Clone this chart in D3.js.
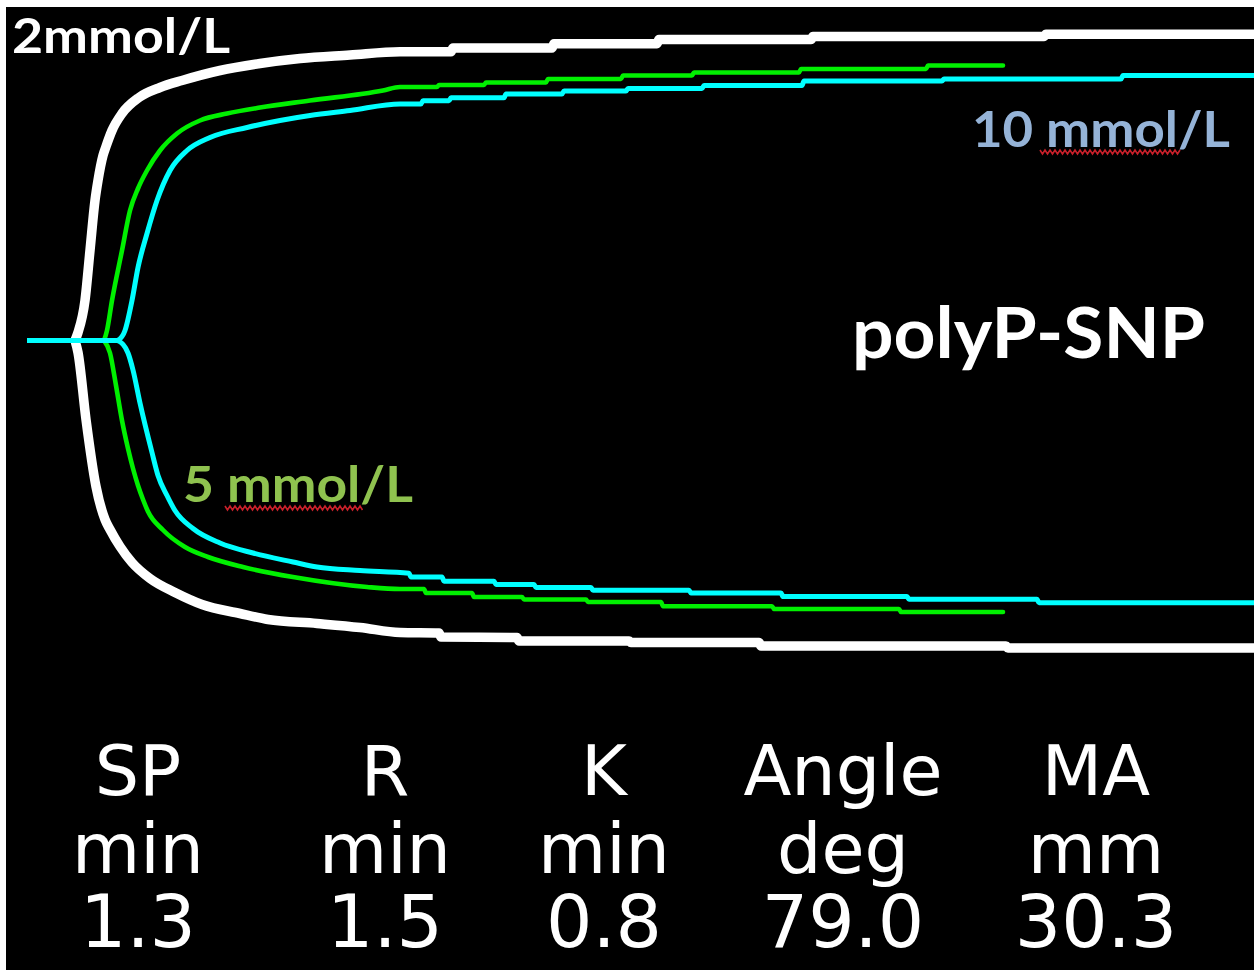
<!DOCTYPE html>
<html><head><meta charset="utf-8">
<script src="https://cdn.jsdelivr.net/npm/d3@7"></script>
<style>html,body{margin:0;padding:0;background:#fff;overflow:hidden}svg{display:block}</style>
</head><body><svg id="c" width="1254" height="970"></svg>
<script>
// time in minutes, amplitude (full width) in mm
const whiteUpper = [[2.40,0],[2.55,0.8],[2.90,4.0],[3.15,9.0],[3.40,14.0],[3.55,16.0],[3.80,18.5],[3.95,19.4],[4.25,21.0],[4.75,22.7],[5.60,24.3],[6.65,25.3],[7.75,26.0],[9.65,27.0],[11.65,27.7],[13.65,28.2],[16.15,28.55],[18.65,28.88],[21.2,28.88],[21.3,29.25],[26.25,29.25],[26.35,29.68],[31.5,29.68],[31.6,30.1],[39.2,30.1],[39.3,30.4],[50.85,30.4],[50.95,30.62],[62,30.62]];
const whiteLower = [[2.40,0],[2.55,1.2],[2.95,7.9],[3.45,14.6],[3.90,17.9],[4.15,18.9],[4.65,20.6],[5.25,22.2],[6.15,23.8],[7.40,25.2],[8.75,26.4],[10.65,27.3],[12.05,27.9],[14.5,28.3],[16.65,28.7],[18.65,29.2],[20.6,29.25],[20.7,29.65],[24.5,29.7],[24.6,30.05],[30.1,30.05],[30.2,30.2],[36.6,30.2],[36.7,30.55],[48.95,30.55],[49.05,30.75],[62,30.75]];
const greenUpper = [[3.85,0],[4.0,1.0],[4.25,4.0],[4.75,9.0],[5.15,13.0],[5.55,15.2],[6.0,17.0],[6.65,19.0],[7.5,20.7],[8.65,22.0],[10.0,22.7],[11.65,23.3],[14.15,24.0],[17.8,25.0],[18.65,25.35],[20.5,25.35],[20.6,25.55],[22.85,25.55],[22.95,25.8],[25.95,25.8],[26.05,26.15],[29.7,26.15],[29.8,26.5],[33.25,26.5],[33.35,26.8],[38.6,26.8],[38.7,27.15],[44.95,27.15],[45.05,27.5],[48.8,27.5]];
const greenLower = [[3.85,0],[4.15,1.25],[4.45,4.5],[4.75,8.0],[5.05,10.8],[5.3,12.8],[5.55,14.5],[5.8,15.9],[6.05,17.1],[6.8,18.95],[7.9,20.65],[9.05,21.65],[10.8,22.65],[13.3,23.65],[17.0,24.65],[18.65,24.85],[19.85,24.85],[19.95,25.25],[22.25,25.25],[22.35,25.65],[24.75,25.65],[24.85,25.9],[27.95,25.9],[28.05,26.15],[31.7,26.15],[31.8,26.57],[37.25,26.57],[37.35,26.85],[43.6,26.85],[43.7,27.15],[48.8,27.15]];
const cyanBaseline = [[0,0],[4.55,0]];
const cyanUpper = [[4.55,0],[4.9,1.0],[5.25,4.0],[5.55,7.3],[6.0,10.7],[6.5,14.0],[7.15,17.0],[8.0,19.0],[9.15,20.3],[11.0,21.3],[12.65,22.0],[14.15,22.5],[16.15,23.0],[18.65,23.65],[19.7,23.65],[19.8,23.97],[21.1,23.97],[21.2,24.27],[23.85,24.27],[23.95,24.65],[26.75,24.65],[26.85,24.95],[29.95,24.95],[30.05,25.2],[33.75,25.2],[33.85,25.5],[38.75,25.5],[38.85,25.95],[45.75,25.95],[45.85,26.15],[54.7,26.15],[54.8,26.5],[62,26.5]];
const cyanLower = [[4.55,0],[5.05,1.25],[5.3,2.95],[5.65,6.25],[6.25,11.2],[6.55,13.5],[7.0,15.5],[7.4,17.0],[8.3,18.8],[9.65,20.25],[11.3,21.25],[13.3,22.15],[14.5,22.65],[16.65,23.0],[19.1,23.28],[19.2,23.65],[20.75,23.65],[20.85,24.07],[23.35,24.07],[23.45,24.4],[25.35,24.4],[25.45,24.7],[28.2,24.7],[28.3,24.98],[33.1,24.98],[33.2,25.25],[37.7,25.25],[37.8,25.6],[44.0,25.6],[44.1,25.88],[50.5,25.88],[50.6,26.22],[62,26.22]];

const seriesLabels = ["2mmol/L", "5 mmol/L", "10 mmol/L"];
const sampleLabel = "polyP-SNP";
const paramNames = ["SP", "R", "K", "Angle", "MA"];
const paramUnits = ["min", "min", "min", "deg", "mm"];
const paramValues = ["1.3", "1.5", "0.8", "79.0", "30.3"];

const W = 1254, H = 970;
const svg = d3.select("#c");
svg.append("rect").attr("width", W).attr("height", H).attr("fill", "#fff");
svg.append("rect").attr("x", 6).attr("y", 7).attr("width", W - 6).attr("height", H - 7).attr("fill", "#000");
svg.append("defs").append("clipPath").attr("id", "clip")
  .append("rect").attr("x", 6).attr("y", 7).attr("width", W - 6).attr("height", H - 7);

const x = d3.scaleLinear().domain([0, 60]).range([27, 1227]);
const y = d3.scaleLinear().domain([-17.5, 17.5]).range([690.5, -9.5]);
const upperLine = d3.line().x(d => x(d[0])).y(d => y(d[1] / 2)).curve(d3.curveMonotoneX);
const lowerLine = d3.line().x(d => x(d[0])).y(d => y(-d[1] / 2)).curve(d3.curveMonotoneX);

const g = svg.append("g").attr("clip-path", "url(#clip)");
const series = [
  { upper: whiteUpper, lower: whiteLower, color: "#ffffff", w: 9.5 },
  { upper: greenUpper, lower: greenLower, color: "#00f000", w: 4.6 },
  { upper: cyanUpper, lower: cyanLower, color: "#00ffff", w: 5 }
];
series.forEach(s => {
  [upperLine(s.upper), lowerLine(s.lower)].forEach(d => {
    g.append("path").attr("d", d)
      .attr("fill", "none").attr("stroke", s.color).attr("stroke-width", s.w)
      .attr("stroke-linejoin", "round").attr("stroke-linecap", "round");
  });
});
g.append("path").attr("d", upperLine.curve(d3.curveLinear)(cyanBaseline))
  .attr("fill", "none").attr("stroke", "#00ffff").attr("stroke-width", 5);

// series labels
const lab = svg.append("g").attr("font-family", "Lato, 'Open Sans', sans-serif").attr("font-weight", "bold");
lab.append("text").attr("x", 12).attr("y", 53).attr("font-size", 47).attr("fill", "#fff")
  .attr("textLength", 218).attr("lengthAdjust", "spacingAndGlyphs").text(seriesLabels[0]);
lab.append("text").attr("x", 183).attr("y", 502).attr("font-size", 49).attr("fill", "#8fc24f")
  .attr("textLength", 230).attr("lengthAdjust", "spacingAndGlyphs").text(seriesLabels[1]);
lab.append("text").attr("x", 972).attr("y", 147).attr("font-size", 49).attr("fill", "#95b3d7")
  .attr("textLength", 258).attr("lengthAdjust", "spacingAndGlyphs").text(seriesLabels[2]);
lab.append("text").attr("x", 852).attr("y", 358).attr("font-size", 70).attr("fill", "#fff")
  .attr("textLength", 353).attr("lengthAdjust", "spacingAndGlyphs").text(sampleLabel);

// spell-check squiggles
function squiggle(x0, x1, yy) {
  const pts = [];
  let up = true;
  for (let xx = x0; xx <= x1; xx += 2.5) { pts.push([xx, up ? yy - 2 : yy + 2]); up = !up; }
  return d3.line()(pts);
}
svg.append("path").attr("d", squiggle(1040, 1180, 152)).attr("fill", "none").attr("stroke", "#c8202a").attr("stroke-width", 1.6);
svg.append("path").attr("d", squiggle(225, 363, 508)).attr("fill", "none").attr("stroke", "#c8202a").attr("stroke-width", 1.6);

// parameter table
const colX = d3.scaleOrdinal().domain(paramNames).range([138, 385, 604, 843, 1096]);
const tbl = svg.append("g").attr("font-family", "'DejaVu Sans', Verdana, sans-serif")
  .attr("fill", "#fff").attr("text-anchor", "middle").attr("font-size", 70);
tbl.selectAll("text.n").data(paramNames).join("text").attr("class", "n")
  .attr("x", d => colX(d)).attr("y", 795).text(d => d);
tbl.selectAll("text.u").data(paramNames).join("text").attr("class", "u")
  .attr("x", d => colX(d)).attr("y", 873).text((d, i) => paramUnits[i]);
tbl.selectAll("text.v").data(paramNames).join("text").attr("class", "v")
  .attr("x", d => colX(d)).attr("y", 947).attr("font-size", 73).text((d, i) => paramValues[i]);
</script></body></html>
